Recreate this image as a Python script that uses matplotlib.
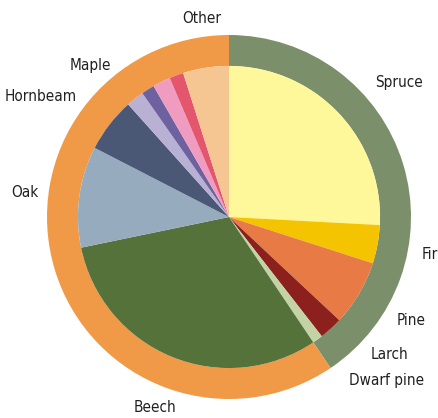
import numpy as np
import matplotlib.pyplot as plt

species = ['Spruce', 'Fir', 'Pine', 'Larch', 'Dwarf pine', 'Beech', 'Oak',
           'Hornbeam', 'Maple', '', '', '', 'Other']
shares = [25.8, 4.1, 7.0, 2.5, 1.1, 31.1, 10.8, 5.8, 1.9, 1.4, 1.9, 1.5, 4.9]
colors = ['#fff89a', '#f5c400', '#e77a45', '#8b201d', '#c3d3a5', '#54723a',
          '#96abbe', '#4a5775', '#b9b1d4', '#6e619f', '#f09bc0', '#e3566e',
          '#f5c592']

groups = ['Conifers', 'Broadleaves']
group_shares = [sum(shares[:5]), sum(shares[5:])]
group_colors = ['#7a8f6a', '#f09a48']

# label distance (x outer radius) and angle nudge in degrees
label_dist = [1.19, 1.12, 1.15, 1.16, 1.25, 1.12, 1.13, 1.23, 1.13, 1, 1, 1, 1.1]
label_nudge = [-5, 0, 1, 7, 8, 1, 1, 5, 4, 0, 0, 0, -1]

plt.rcParams['font.family'] = ['DejaVu Sans']

fig = plt.figure(figsize=(4.39, 4.18), dpi=100)
ax = fig.add_axes([0, 0, 1, 1])

ax.pie(group_shares, colors=group_colors, radius=1.0, startangle=90,
       counterclock=False, wedgeprops=dict(width=0.17, linewidth=0))
wedges, _ = ax.pie(shares, colors=colors, radius=0.83, startangle=90,
                   counterclock=False, wedgeprops=dict(linewidth=0))

for w, lab, d, n in zip(wedges, species, label_dist, label_nudge):
    if not lab:
        continue
    ang = np.deg2rad((w.theta1 + w.theta2) / 2 + n)
    ax.text(d * np.cos(ang), d * np.sin(ang), lab, ha='center', va='center',
            fontsize=11, fontstretch='condensed', color='#231f20')

ax.set_xlim(-229 / 182, 210 / 182)
ax.set_ylim(-201 / 182, 217 / 182)
ax.set_aspect('equal')
ax.axis('off')

fig.savefig('out.png', dpi=100, facecolor='white')
